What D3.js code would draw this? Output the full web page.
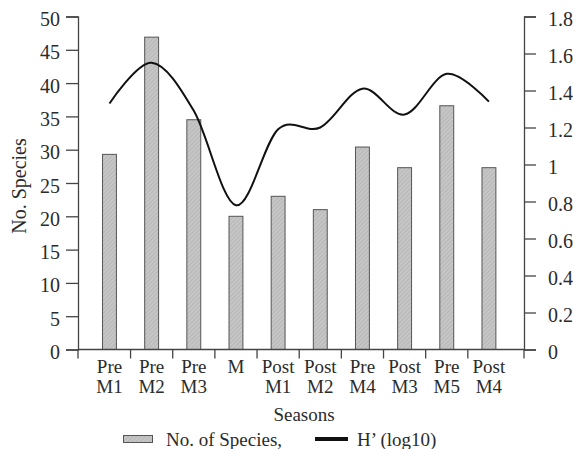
<!DOCTYPE html>
<html>
<head>
<meta charset="utf-8">
<script src="https://cdn.jsdelivr.net/npm/d3@7"></script>
<style>
  body { margin: 0; background: #fff; }
  svg { display: block; font-family: "Liberation Serif", "Times New Roman", serif; }
</style>
</head>
<body>
<svg width="573" height="449"></svg>
<script>
var seasons = ['Pre M1', 'Pre M2', 'Pre M3', 'M', 'Post M1', 'Post M2', 'Pre M4', 'Post M3', 'Pre M5', 'Post M4'];
var species = [29.3, 46.9, 34.5, 20, 23, 21, 30.4, 27.3, 36.6, 27.3];
var hLog10 = [1.33, 1.55, 1.29, 0.78, 1.19, 1.2, 1.41, 1.27, 1.49, 1.34];
var leftTicks = [0, 5, 10, 15, 20, 25, 30, 35, 40, 45, 50];
var rightTicks = [0, 0.2, 0.4, 0.6, 0.8, 1, 1.2, 1.4, 1.6, 1.8];

var svg = d3.select('svg');
var axisColor = '#444';
var textColor = '#2b2b2b';

var plotLeft = 78, plotRight = 524, plotTop = 16.5, plotBottom = 349.5;

var x = d3.scaleBand()
    .domain(seasons)
    .range([88.4, 510])
    .paddingInner(0.67)
    .paddingOuter(0.335);

var y = d3.scaleLinear().domain([0, 50]).range([plotBottom, plotTop]);
var y2 = d3.scaleLinear().domain([0, 1.8]).range([plotBottom, plotTop]);

// hatch pattern for bars
var defs = svg.append('defs');
var pat = defs.append('pattern')
    .attr('id', 'hatch')
    .attr('patternUnits', 'userSpaceOnUse')
    .attr('width', 3)
    .attr('height', 3)
    .attr('patternTransform', 'rotate(45)');
pat.append('rect')
    .attr('width', 3)
    .attr('height', 3)
    .attr('fill', '#c6c6c6');
pat.append('line')
    .attr('x1', 0).attr('y1', 0)
    .attr('x2', 0).attr('y2', 3)
    .attr('stroke', '#a8a8a8')
    .attr('stroke-width', 1);

// bars
svg.selectAll('rect.bar')
    .data(seasons)
    .enter().append('rect')
    .attr('class', 'bar')
    .attr('x', function(d) { return x(d); })
    .attr('y', function(d, i) { return y(species[i]); })
    .attr('width', x.bandwidth())
    .attr('height', function(d, i) { return plotBottom - y(species[i]); })
    .style('fill', 'url(#hatch)')
    .style('stroke', '#555')
    .style('stroke-width', 1);

// H' line
var line = d3.line()
    .x(function(d, i) { return x(seasons[i]) + x.bandwidth() / 2; })
    .y(function(d) { return y2(d); })
    .curve(d3.curveCatmullRom.alpha(0));

svg.append('path')
    .datum(hLog10)
    .attr('d', line)
    .style('fill', 'none')
    .style('stroke', '#111')
    .style('stroke-width', 2);

// left axis
var leftAxis = d3.axisLeft(y)
    .tickValues(leftTicks)
    .tickSize(12)
    .tickPadding(6)
    .tickFormat(d3.format('d'));
var gl = svg.append('g')
    .attr('transform', 'translate(' + plotLeft + ',0)')
    .call(leftAxis);

// right axis
var rightAxis = d3.axisRight(y2)
    .tickValues(rightTicks)
    .tickSize(12)
    .tickPadding(12)
    .tickFormat(function(d) { return String(+d.toFixed(1)); });
var gr = svg.append('g')
    .attr('transform', 'translate(' + plotRight + ',0)')
    .call(rightAxis);

[gl, gr].forEach(function(g) {
    g.select('.domain').attr('stroke', axisColor).attr('stroke-width', 1.3);
    g.selectAll('.tick line').attr('stroke', axisColor).attr('stroke-width', 1.3);
    g.selectAll('.tick text')
        .attr('fill', textColor)
        .style('font-size', '20px')
        .style('font-family', '"Liberation Serif", serif')
        .attr('dy', '0.45em');
});

// bottom axis
svg.append('line')
    .attr('x1', plotLeft).attr('x2', plotRight)
    .attr('y1', plotBottom).attr('y2', plotBottom)
    .attr('stroke', axisColor)
    .attr('stroke-width', 1.3);

var step = x.step();
var tickXs = [plotLeft];
seasons.slice(1).forEach(function(d) {
    tickXs.push(x(d) - step * x.paddingInner() / 2);
});
tickXs.push(plotRight);

svg.selectAll('line.xtick')
    .data(tickXs)
    .enter().append('line')
    .attr('class', 'xtick')
    .attr('x1', function(d) { return d; })
    .attr('x2', function(d) { return d; })
    .attr('y1', plotBottom)
    .attr('y2', plotBottom + 9)
    .attr('stroke', axisColor)
    .attr('stroke-width', 1.3);

var labels = svg.selectAll('text.xlab')
    .data(seasons)
    .enter().append('text')
    .attr('class', 'xlab')
    .attr('text-anchor', 'middle')
    .attr('fill', textColor)
    .style('font-size', '19px');

labels.each(function(d) {
    var parts = d.split(' ');
    var t = d3.select(this);
    var cx = x(d) + x.bandwidth() / 2;
    parts.forEach(function(p, j) {
        t.append('tspan')
            .attr('x', cx)
            .attr('y', 372.5 + j * 20)
            .text(p);
    });
});

// axis titles
svg.append('text')
    .attr('transform', 'translate(26,186) rotate(-90)')
    .attr('text-anchor', 'middle')
    .attr('fill', textColor)
    .style('font-size', '20px')
    .text('No. Species');

svg.append('text')
    .attr('x', 304)
    .attr('y', 421)
    .attr('text-anchor', 'middle')
    .attr('fill', textColor)
    .style('font-size', '19px')
    .text('Seasons');

// legend
svg.append('rect')
    .attr('x', 123.5)
    .attr('y', 435.5)
    .attr('width', 29)
    .attr('height', 7)
    .style('fill', 'url(#hatch)')
    .style('stroke', '#555')
    .style('stroke-width', 1);

svg.append('text')
    .attr('x', 166)
    .attr('y', 446)
    .attr('fill', textColor)
    .style('font-size', '19px')
    .text('No. of Species,');

svg.append('line')
    .attr('x1', 315).attr('x2', 348)
    .attr('y1', 439).attr('y2', 439)
    .attr('stroke', '#111')
    .attr('stroke-width', 4);

svg.append('text')
    .attr('x', 357)
    .attr('y', 446)
    .attr('fill', textColor)
    .style('font-size', '19px')
    .text('H\u2019 (log10)');
</script>
</body>
</html>
